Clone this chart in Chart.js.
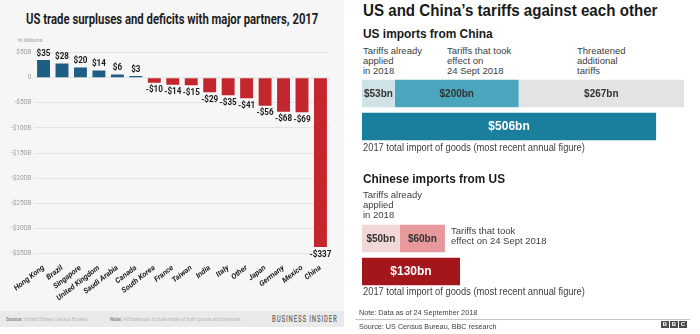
<!DOCTYPE html>
<html>
<head>
<meta charset="utf-8">
<script src="https://cdn.jsdelivr.net/npm/chart.js@4.4.1/dist/chart.umd.min.js"></script>
<style>
    body { margin: 0; width: 700px; height: 334px; position: relative; overflow: hidden; background: #fff; }
    .box { position: absolute; }
    .t { position: absolute; white-space: nowrap; transform-origin: 0 50%; }
    .bi { font-family: Roboto, sans-serif; }
    .bbc { font-family: "Liberation Sans", Arial, sans-serif; color: #404040; }
    canvas { position: absolute; }
    .logo { position: absolute; left: 661px; top: 321px; display: flex; gap: 1px; }
    .logo div { width: 8px; height: 7px; background: #4a4a4a; color: #fff; font: bold 6px "Liberation Sans", Arial; line-height: 7px; text-align: center; }
</style>
</head>
<body>
<!-- Business Insider panel -->
<div class="box" style="left:0;top:0;width:344px;height:311px;background:#f6f6f6"></div>
<div class="box" style="left:0;top:311px;width:344px;height:16px;background:#eaeaea"></div>
<div class="t bi" data-w="292" style="left:26px;top:8.5px;font-weight:700;font-size:15px;line-height:20px;color:#1e1e1e">US trade surpluses and deficits with major partners, 2017</div>
<div class="t bi" data-w="24" style="left:18px;top:36px;font-size:6px;line-height:8px;color:#9a9a9a">In billions</div>
<canvas id="balance" width="344" height="266" style="left:0;top:44px"></canvas>
<div class="t bi" data-w="81" style="left:6px;top:315px;font-size:5.5px;line-height:8px;color:#b8b8b8"><b style="color:#8a8a8a">Source:</b> United States Census Bureau</div>
<div class="t bi" data-w="132" style="left:110px;top:315px;font-size:5.5px;line-height:8px;color:#b8b8b8"><b style="color:#8a8a8a">Note:</b> All balances include trade of both goods and services.</div>
<div class="t bi" data-w="66" style="left:272px;top:313px;font-size:8.5px;font-weight:500;letter-spacing:1.2px;line-height:12px;color:#6a6a6a">BUSINESS INSIDER</div>

<!-- BBC panel -->
<div class="t bbc" data-w="294" style="left:363px;top:1px;font-weight:700;font-size:16px;line-height:20px;color:#1a1a1a">US and China’s tariffs against each other</div>
<div class="t bbc" data-w="130" style="left:363px;top:26px;font-weight:700;font-size:12px;line-height:16px;color:#1a1a1a">US imports from China</div>
<div class="t bbc" style="left:363px;top:45.5px;font-size:9.5px;line-height:10.3px">Tariffs already<br>applied<br>in 2018</div>
<div class="t bbc" style="left:447px;top:45.5px;font-size:9.5px;line-height:10.3px">Tariffs that took<br>effect on<br>24 Sept 2018</div>
<div class="t bbc" style="left:577px;top:45.5px;font-size:9.5px;line-height:10.3px">Threatened<br>additional<br>tariffs</div>
<canvas id="us" width="322" height="66" style="left:362px;top:77px"></canvas>
<div class="t bbc" data-w="222" style="left:363px;top:141.5px;font-size:10px;line-height:12px">2017 total import of goods (most recent annual figure)</div>
<div class="t bbc" data-w="142" style="left:363px;top:171px;font-weight:700;font-size:12px;line-height:16px;color:#1a1a1a">Chinese imports from US</div>
<div class="t bbc" style="left:363px;top:189.8px;font-size:9.5px;line-height:10.3px">Tariffs already<br>applied<br>in 2018</div>
<canvas id="cn" width="322" height="66" style="left:362px;top:222px"></canvas>
<div class="t bbc" style="left:451px;top:225.5px;font-size:9.5px;line-height:10.3px">Tariffs that took<br>effect on 24 Sept 2018</div>
<div class="t bbc" data-w="222" style="left:363px;top:286px;font-size:10px;line-height:12px">2017 total import of goods (most recent annual figure)</div>
<div class="t bbc" data-w="118" style="left:359px;top:307.5px;font-size:8px;line-height:9px">Note: Data as of 24 September 2018</div>
<div class="box" style="left:355px;top:318.5px;width:335px;height:1.5px;background:#c4c4c4"></div>
<div class="t bbc" data-w="138" style="left:359px;top:321.5px;font-size:8px;line-height:9px">Source: US Census Bureau, BBC research</div>
<div class="logo"><div>B</div><div>B</div><div>C</div></div>

<script>
const partners = ["Hong Kong", "Brazil", "Singapore", "United Kingdom", "Saudi Arabia", "Canada", "South Korea", "France", "Taiwan", "India", "Italy", "Other", "Japan", "Germany", "Mexico", "China"]
const balances = [35, 28, 20, 14, 6, 3, -10, -14, -15, -29, -35, -41, -56, -68, -69, -337]

const usTariffs = [53, 200, 267]
const usTotal = [506]
const cnTariffs = [50, 60]
const cnTotal = [130]

// squeeze the text boxes to the widths seen in the picture
document.querySelectorAll("[data-w]").forEach(el => {
    el.style.transform = `scaleX(${el.dataset.w / el.offsetWidth})`
})

const money = v => v < 0 ? `-$${-v}` : `$${v}`

const valueLabels = {
    id: "valueLabels",
    afterDatasetsDraw(chart) {
        const ctx = chart.ctx
        chart.getDatasetMeta(0).data.forEach((bar, i) => {
            const v = balances[i]
            ctx.save()
            ctx.font = "bold 9.5px Roboto"
            ctx.fillStyle = "#1a1a1a"
            ctx.textAlign = "center"
            ctx.textBaseline = v < 0 ? "top" : "bottom"
            ctx.translate(bar.x, v < 0 ? bar.y + 2.5 : bar.y - 2)
            ctx.scale(0.85, 1)
            ctx.fillText(money(v), 0, 0)
            ctx.restore()
        })
    }
}

const barText = {
    id: "barText",
    afterDatasetsDraw(chart) {
        const ctx = chart.ctx
        chart.data.datasets.forEach((ds, i) => {
            chart.getDatasetMeta(i).data.forEach((bar, j) => {
                if (ds.data[j] == null) return
                ctx.save()
                ctx.font = ds.textFont
                ctx.fillStyle = ds.textColor
                ctx.textAlign = "center"
                ctx.textBaseline = "middle"
                ctx.fillText(`$${ds.data[j]}bn`, (bar.x + bar.base) / 2, bar.y + 0.5)
                ctx.restore()
            })
        })
    }
}

new Chart("balance", {
    type: "bar",
    data: {
        labels: partners,
        datasets: [{
            data: balances,
            backgroundColor: balances.map(v => v < 0 ? "#c3272d" : "#1d5e84"),
            categoryPercentage: 0.7,
            barPercentage: 1
        }]
    },
    options: {
        responsive: false,
        animation: false,
        events: [],
        layout: { padding: { top: 8.5, right: 14.3, left: 0, bottom: 0 } },
        plugins: { legend: { display: false }, tooltip: { enabled: false } },
        scales: {
            y: {
                min: -350,
                max: 50,
                border: { display: false },
                grid: { color: "#e4e4e4", drawTicks: false },
                ticks: {
                    stepSize: 50,
                    padding: 3,
                    color: "#a0a0a0",
                    font: { family: "Roboto", size: 6.5 },
                    callback: v => v == 0 ? "0" : `${money(v)}B`
                },
                afterFit: s => { s.width = 34.3 }
            },
            x: {
                border: { display: false },
                grid: { display: false },
                ticks: {
                    autoSkip: false,
                    minRotation: 38,
                    maxRotation: 38,
                    padding: 2,
                    color: "#222",
                    font: { family: "Roboto", size: 7.5, weight: "bold", style: "italic" }
                },
                afterFit: s => { s.height = 56.5 }
            }
        }
    },
    plugins: [valueLabels]
})

const barOptions = (max, max2) => ({
    indexAxis: "y",
    responsive: false,
    animation: false,
    events: [],
    plugins: { legend: { display: false }, tooltip: { enabled: false } },
    datasets: { bar: { categoryPercentage: 1, barPercentage: 0.84 } },
    scales: {
        y: { display: false, stacked: true },
        x: { display: false, stacked: true, min: 0, max: max },
        x2: { display: false, stacked: true, min: 0, max: max2 }
    }
})

const small = "bold 10px 'Liberation Sans', Arial"
const big = "bold 12px 'Liberation Sans', Arial"

new Chart("us", {
    type: "bar",
    data: {
        labels: ["tariffs", "total"],
        datasets: [
            { data: [usTariffs[0], null], backgroundColor: "#cfe2e7", textFont: small, textColor: "#333" },
            { data: [usTariffs[1], null], backgroundColor: "#4ba6bd", textFont: small, textColor: "#333" },
            { data: [usTariffs[2], null], backgroundColor: "#e3e3e3", textFont: small, textColor: "#333" },
            { data: [null, usTotal[0]], backgroundColor: "#1a7f9c", textFont: big, textColor: "#fff", xAxisID: "x2" }
        ]
    },
    options: barOptions(520, 554),
    plugins: [barText]
})

new Chart("cn", {
    type: "bar",
    data: {
        labels: ["tariffs", "total"],
        datasets: [
            { data: [cnTariffs[0], null], backgroundColor: "#f2d7d7", textFont: small, textColor: "#333" },
            { data: [cnTariffs[1], null], backgroundColor: "#e8999b", textFont: small, textColor: "#333" },
            { data: [null, cnTotal[0]], backgroundColor: "#a3171c", textFont: big, textColor: "#fff" }
        ]
    },
    options: barOptions(427, 427),
    plugins: [barText]
})
</script>
</body>
</html>
